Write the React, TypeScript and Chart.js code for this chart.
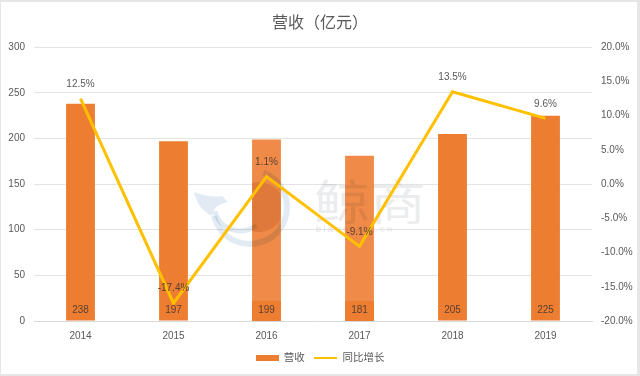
import React, { useEffect, useRef } from "react";
import { Chart, registerables } from "chart.js";

Chart.register(...registerables);

const years = ["2014", "2015", "2016", "2017", "2018", "2019"];
const revenue = [238, 197, 199, 181, 205, 225];
const growth = [12.5, -17.4, 1.1, -9.1, 13.5, 9.6];
const barColors = ["#ED7D31", "#ED7D31", "#EF8A48", "#EF8A48", "#ED7D31", "#ED7D31"];
const titleText = "营收（亿元）";
const legendBar = "营收";
const legendLine = "同比增长";
const FONT = "'Liberation Sans', 'Noto Sans CJK SC', sans-serif";
const TEXT = "#595959";

function swatch(w: number, h: number, color: string) {
  const c = document.createElement("canvas");
  c.width = w;
  c.height = h;
  const ctx = c.getContext("2d")!;
  ctx.fillStyle = color;
  ctx.fillRect(0, 0, w, h);
  return c;
}

const labelsPlugin = {
  id: "valueLabels",
  afterDatasetsDraw(chart: any) {
    const { ctx } = chart;
    ctx.save();
    ctx.font = `10px ${FONT}`;
    ctx.textAlign = "center";
    ctx.textBaseline = "middle";
    chart.getDatasetMeta(0).data.forEach((el: any, i: number) => {
      ctx.fillStyle = "#5c4030";
      ctx.fillText(String(revenue[i]), el.x, chart.chartArea.bottom - 11);
    });
    chart.getDatasetMeta(1).data.forEach((el: any, i: number) => {
      ctx.fillStyle = i === 1 || i === 2 || i === 3 ? "#5c4030" : TEXT;
      ctx.fillText(`${growth[i].toFixed(1)}%`, el.x, el.y - 14.5);
    });
    ctx.restore();
  },
};

// Watermark sits between the bars and the line, tinted by multiply so it darkens the bars.
const watermarkPlugin = {
  id: "watermark",
  afterDatasetDraw(chart: any, args: any) {
    if (args.index !== 0) return;
    const { ctx } = chart;
    const bottom = chart.chartArea.bottom;
    const bars = chart.getDatasetMeta(0).data;
    ctx.save();
    bars.forEach((el: any, i: number) => {
      if (i === 2 || i === 3) {
        ctx.fillStyle = "#ED7D31";
        ctx.fillRect(el.x - el.width / 2, bottom - 20, el.width, 20);
      }
    });
    ctx.globalCompositeOperation = "multiply";
    ctx.save();
    ctx.beginPath();
    ctx.rect(bars[2].x - bars[2].width / 2, 0, bars[2].width, 376);
    ctx.clip();
    ctx.fillStyle = "#eeddd0";
    ctx.beginPath();
    ctx.arc(259, 207, 25, 0, Math.PI * 2);
    ctx.fill();
    ctx.restore();
    ctx.strokeStyle = "#e2ebf3";
    ctx.lineWidth = 6;
    ctx.beginPath();
    ctx.arc(250, 207, 37, -1.2, 2.9);
    ctx.stroke();
    ctx.lineWidth = 5;
    ctx.beginPath();
    ctx.arc(240, 205, 26, 0.9, 2.9);
    ctx.stroke();
    ctx.fillStyle = "#e2ebf3";
    ctx.beginPath();
    ctx.moveTo(194, 192);
    ctx.quadraticCurveTo(212, 198, 222, 196);
    ctx.lineTo(228, 202);
    ctx.quadraticCurveTo(214, 204, 212, 216);
    ctx.quadraticCurveTo(198, 210, 194, 192);
    ctx.fill();
    ctx.fillStyle = "#ebecee";
    ctx.textAlign = "left";
    ctx.textBaseline = "middle";
    ctx.save();
    ctx.translate(314, 202);
    ctx.scale(1, 0.85);
    ctx.font = `56px 'Noto Sans CJK SC'`;
    ctx.fillText("鲸商", 0, 0);
    ctx.restore();
    ctx.font = `9px ${FONT}`;
    ctx.fillStyle = "#e6e7e9";
    ctx.fillText("b i a n e t a l e . c n", 316, 230);
    ctx.restore();
  },
};

export default function App() {
  const ref = useRef<HTMLCanvasElement>(null);
  useEffect(() => {
    document.body.style.margin = "0";
    document.body.style.background = "#ffffff";
    const chart = new Chart(ref.current!, {
      data: {
        labels: years,
        datasets: [
          {
            type: "bar",
            label: legendBar,
            data: revenue,
            backgroundColor: barColors,
            categoryPercentage: 1,
            barPercentage: 0.31,
            yAxisID: "y",
            order: 2,
          },
          {
            type: "line",
            label: legendLine,
            data: growth,
            borderColor: "#FFC000",
            backgroundColor: "#FFC000",
            borderWidth: 3,
            pointRadius: 0,
            tension: 0,
            yAxisID: "y2",
            order: 1,
          },
        ],
      } as any,
      options: {
        animation: false,
        responsive: false,
        layout: { padding: { left: 0, right: 0, top: 0, bottom: 2.5 } },
        plugins: {
          tooltip: { enabled: false },
          title: {
            display: true,
            text: titleText,
            color: TEXT,
            font: { family: FONT, size: 16, weight: "normal" },
            padding: { top: 14, bottom: 14 },
          },
          legend: {
            position: "bottom",
            labels: {
              usePointStyle: true,
              color: TEXT,
              font: { family: FONT, size: 10.5 },
              boxHeight: 6,
              padding: 9.5,
              generateLabels: () => [
                { text: legendBar, pointStyle: swatch(23, 6, "#ED7D31"), fontColor: TEXT, lineWidth: 0, datasetIndex: 0 },
                { text: legendLine, pointStyle: swatch(23, 2, "#FFC000"), fontColor: TEXT, lineWidth: 0, datasetIndex: 1 },
              ],
              pointStyleWidth: 23,
            },
          },
        },
        scales: {
          x: {
            grid: { display: false },
            border: { color: "#d9d9d9" },
            afterFit: (s: any) => { s.height += 0.5; },
            ticks: { color: TEXT, font: { family: FONT, size: 10 }, padding: 1 },
          },
          y: {
            position: "left",
            min: 0,
            max: 300,
            afterFit: (s: any) => { s.width = 34; },
            grid: { color: "#e3e3e3", drawTicks: false },
            border: { display: false },
            ticks: { stepSize: 50, color: TEXT, font: { family: FONT, size: 10 }, padding: 9 },
          },
          y2: {
            position: "right",
            min: -20,
            max: 20,
            afterFit: (s: any) => { s.width = 48; },
            grid: { display: false, drawTicks: false },
            border: { display: false },
            ticks: {
              stepSize: 5,
              color: TEXT,
              font: { family: FONT, size: 10 },
              padding: 9,
              callback: (v: any) => `${Number(v).toFixed(1)}%`,
            },
          },
        },
      } as any,
      plugins: [watermarkPlugin, labelsPlugin],
    });
    return () => chart.destroy();
  }, []);
  return (
    <div style={{ width: 640, height: 376, position: "relative" }}>
      <canvas ref={ref} width={640} height={376} style={{ display: "block" }} />
      <div
        style={{
          position: "absolute",
          inset: 0,
          boxSizing: "border-box",
          borderStyle: "solid",
          borderColor: "#e6e6e6",
          borderWidth: "2px 3px 2px 1px",
          pointerEvents: "none",
        }}
      />
    </div>
  );
}
